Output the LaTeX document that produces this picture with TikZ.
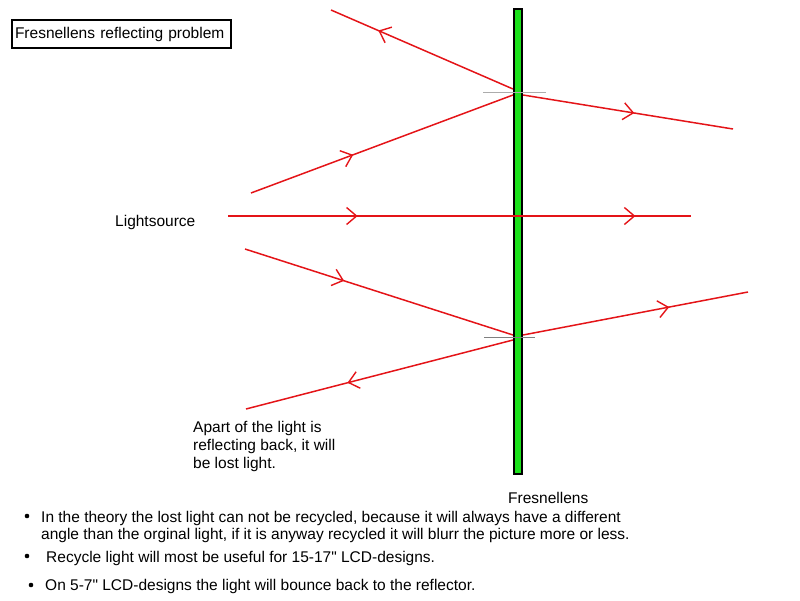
\documentclass[tikz,border=0pt]{standalone}
\usepackage{fontspec}
\setmainfont{Liberation Sans}
\usetikzlibrary{arrows.meta,decorations.markings}
\definecolor{raycol}{RGB}{228,20,24}
\definecolor{lensgreen}{RGB}{28,226,28}
\definecolor{ticklight}{RGB}{172,172,172}
\definecolor{tickdark}{RGB}{128,128,128}
\newcommand{\picfont}{\fontsize{15.5}{18}\selectfont}
\tikzset{
  ray/.style={raycol, line width=1.5pt},
  raytip/.style={postaction={decorate, decoration={markings, mark=at position #1 with {\arrow[raycol, line width=1.4pt]{Straight Barb[length=10pt, width=17pt]}}}}},
  txt/.style={font=\picfont, inner sep=0pt, anchor=base west},
  normal/.style={line width=1.8pt}
}

\begin{document}
\begin{tikzpicture}[x=1pt, y=-1pt]
            \useasboundingbox (0,0) rectangle (800,600);
            \node[draw, line width=2pt, font=\picfont, text width=213pt, inner xsep=3pt, minimum height=28pt, anchor=west] (title) at (11,34) {Fresnellens reflecting problem};
            \coordinate (refA) at (331,10);
            \coordinate (hitAr) at (513,89);
            \coordinate (srcA) at (251,193);
            \coordinate (hitAin) at (513,95);
            \coordinate (hitAout) at (523,95);
            \coordinate (endA) at (733,129);
            \coordinate (srcB) at (245,249);
            \coordinate (hitBin) at (513,335);
            \coordinate (hitBout) at (523,335);
            \coordinate (endB) at (748,292);
            \coordinate (hitBr) at (513,340);
            \coordinate (refB) at (246,409);
            \coordinate (srcM) at (228,216);
            \coordinate (endM) at (691,216);
            \draw[ray, raytip=0.74] (hitAr) -- (refA);
            \draw[ray, raytip=0.39] (srcA) -- (hitAin);
            \draw[ray, raytip=0.53] (hitAout) -- (endA);
            \draw[ray, raytip=0.37] (srcB) -- (hitBin);
            \draw[ray, raytip=0.65] (hitBout) -- (endB);
            \draw[ray, raytip=0.62] (hitBr) -- (refB);
            \node[draw=black, line width=2pt, fill=lensgreen, minimum width=8pt, minimum height=465pt, inner sep=0pt] (lens) at (518,241.5) {};
            \draw[ray, raytip=0.28, raytip=0.88] (srcM) -- (endM);
            \draw[normal, ticklight] (483,92.5) -- (546,92.5);
            \draw[normal, tickdark] (484,337.5) -- (535,337.5);
            \node[txt] (source) at (115,226) {Lightsource};
            \node[txt] (lensname) at (508,503) {Fresnellens};
            \node[txt, align=left] (lostnote) at (193,468) {Apart of the light is\\reflecting back, it will\\be lost light.};
            \fill (27,516) circle (2.3pt);
            \fill (27,556) circle (2.3pt);
            \fill (31,585) circle (2.3pt);
            \node[txt, align=left, font=\fontsize{15.5}{17}\selectfont] (note1) at (41,539) {In the theory the lost light can not be recycled, because it will always have a different\\angle than the orginal light, if it is anyway recycled it will blurr the picture more or less.};
            \node[txt] (note2) at (46,562) {Recycle light will most be useful for 15-17\textquotedbl{} LCD-designs.};
            \node[txt] (note3) at (45,590) {On 5-7\textquotedbl{} LCD-designs the light will bounce back to the reflector.};
\end{tikzpicture}
\end{document}
